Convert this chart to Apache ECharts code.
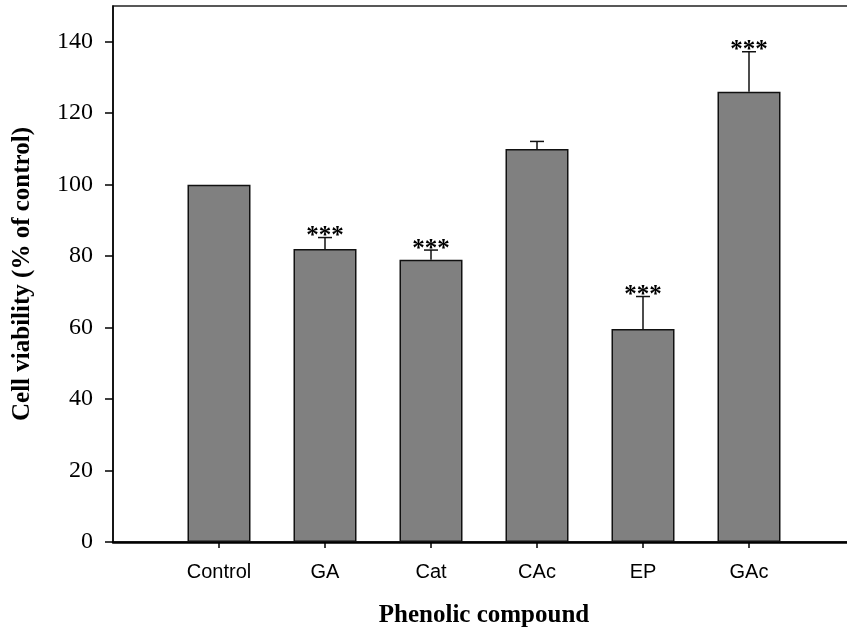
<!DOCTYPE html>
<html>
<head>
<meta charset="utf-8">
<script src="https://cdn.jsdelivr.net/npm/echarts@6/dist/echarts.min.js"></script>
<style>html,body{margin:0;padding:0;background:#fff;overflow:hidden}#c{width:847px;height:634px}</style>
</head>
<body>
<div id="c"></div>
<script>
const categories = ['Control', 'GA', 'Cat', 'CAc', 'EP', 'GAc'];
const viability = [100, 82, 79, 110, 59.6, 126];
const errUpper = [0, 3.2, 2.7, 2.1, 9.1, 11.2];
const significance = ['', '***', '***', '', '***', '***'];
const yTicks = [0, 20, 40, 60, 80, 100, 120, 140];

const axisCats = [''].concat(categories, ['']);
const barData = ['-'].concat(viability, ['-']);
const errData = categories.map((c, i) => [i + 1, viability[i], errUpper[i]]);

const chart = echarts.init(document.getElementById('c'), null, {renderer: 'canvas'});
chart.setOption({
  animation: false,
  grid: {left: 113, width: 742, top: 6, height: 536, outerBoundsMode: 'none', containLabel: false,
    show: true, borderColor: '#222', borderWidth: 1.5, backgroundColor: 'transparent'},
  xAxis: {
    type: 'category',
    data: axisCats,
    boundaryGap: false,
    name: 'Phenolic compound',
    nameLocation: 'middle',
    nameGap: 61,
    nameTextStyle: {fontFamily: 'Liberation Serif', fontWeight: 'bold', fontSize: 25, color: '#000'},
    axisLine: {show: true, lineStyle: {color: '#000', width: 2.5}},
    axisTick: {show: true, length: 6, lineStyle: {color: '#000', width: 1.5}, interval: (i, v) => v !== ''},
    axisLabel: {interval: 0, margin: 20, fontFamily: 'Liberation Sans', fontSize: 20, color: '#000'},
    splitLine: {show: false}
  },
  yAxis: {
    type: 'value',
    min: 0, max: 150,
    name: 'Cell viability (% of control)',
    nameLocation: 'middle',
    nameGap: 78,
    nameTextStyle: {fontFamily: 'Liberation Serif', fontWeight: 'bold', fontSize: 25, color: '#000'},
    axisLine: {show: true, lineStyle: {color: '#000', width: 1.5}},
    axisTick: {show: true, length: 8, lineStyle: {color: '#000', width: 1.5}, customValues: yTicks},
    axisLabel: {margin: 20, fontFamily: 'Liberation Serif', fontSize: 24, color: '#000', customValues: yTicks},
    splitLine: {show: false}
  },
  series: [
    {
      type: 'bar',
      data: barData,
      barWidth: 63,
      itemStyle: {color: '#808080', borderColor: '#111', borderWidth: 1.5},
      z: 2
    },
    {
      type: 'custom',
      data: errData,
      z: 3,
      renderItem: function (params, api) {
        const i = params.dataIndex;
        const x = api.value(0), v = api.value(1), e = api.value(2);
        const base = api.coord([x, v]);
        const top = api.coord([x, v + e]);
        const children = [];
        const cap = 7;
        if (e > 0) {
          children.push({type: 'line', shape: {x1: base[0], y1: base[1], x2: top[0], y2: top[1]}, style: {stroke: '#111', lineWidth: 1.5}});
          children.push({type: 'line', shape: {x1: top[0] - cap, y1: top[1], x2: top[0] + cap, y2: top[1]}, style: {stroke: '#111', lineWidth: 1.5}});
        }
        if (significance[i]) {
          children.push({type: 'text', x: top[0], y: top[1] - 1,
            style: {text: significance[i], fill: '#000', font: 'bold 25px "Liberation Serif"', align: 'center', verticalAlign: 'middle'}});
        }
        return {type: 'group', children: children};
      }
    }
  ]
});
</script>
</body>
</html>
